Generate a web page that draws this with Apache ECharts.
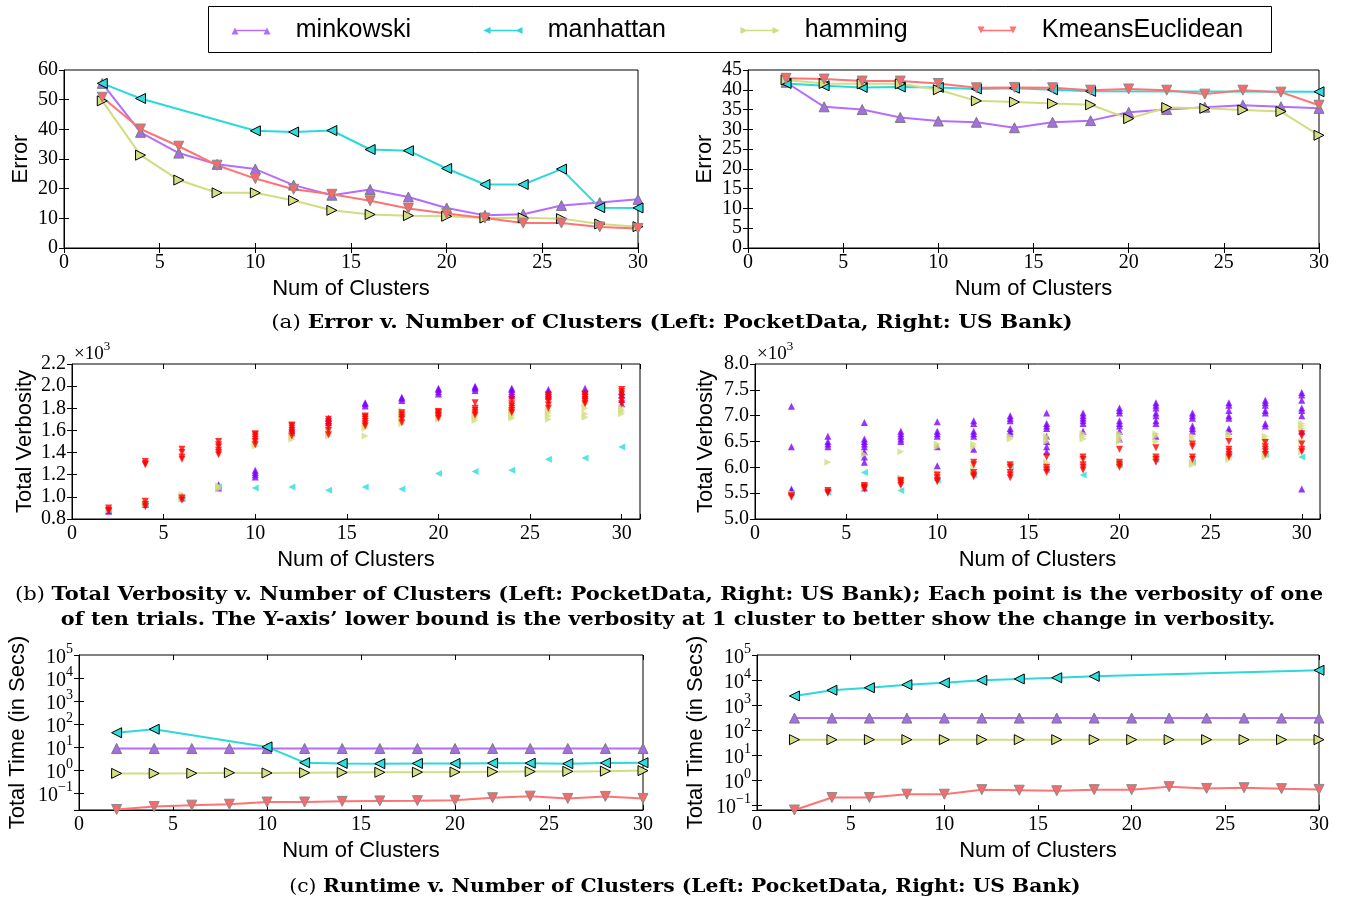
<!DOCTYPE html>
<html><head><meta charset="utf-8">
<script src="https://cdn.jsdelivr.net/npm/echarts@6/dist/echarts.min.js"></script>
<style>html,body{margin:0;padding:0;background:#fff}#c{width:1345px;height:901px}</style>
</head><body><div id="c"></div>
<script>
// ---------------- DATA ----------------
const clusters = [2,4,6,8,10,12,14,16,18,20,22,24,26,28,30];
const seriesNames = ['minkowski','manhattan','hamming','KmeansEuclidean'];

// (a) Error, PocketData
const errPocketMink   = [55.5,39.0,32.0,28.2,26.6,21.2,17.8,19.7,17.2,13.5,11.0,11.4,14.3,15.3,16.4];
const errPocketManh   = [55.5,50.4,null,null,39.5,39.1,39.6,33.2,32.8,26.8,21.4,21.4,26.6,13.6,13.5];
const errPocketHamm   = [49.6,31.3,22.9,18.6,18.6,16.0,12.7,11.3,10.9,10.7,10.1,10.2,9.9,8.1,7.2];
const errPocketKmeans = [50.8,40.1,34.3,27.9,23.4,19.8,18.1,15.9,13.3,11.6,10.1,8.4,8.4,7.1,6.6];
// (a) Error, US Bank
const errBankMink   = [41.9,35.7,35.0,33.0,32.1,31.8,30.4,31.8,32.2,34.3,35.0,35.6,36.1,35.7,35.3];
const errBankManh   = [41.6,41.0,40.6,40.7,40.6,40.2,40.4,40.0,39.6,null,null,null,null,null,39.5];
const errBankHamm   = [42.5,41.6,41.5,41.5,40.0,37.2,36.9,36.5,36.2,32.7,35.5,35.3,34.9,34.5,28.5];
const errBankKmeans = [42.9,42.7,42.2,42.2,41.6,40.5,40.6,40.5,39.9,40.2,39.9,38.9,39.9,39.4,36.1];

// (b) Total verbosity (x10^3), trials per cluster count, PocketData
const verbPocketMink = [[0.87,0.88],[0.93,0.94],[0.99,1.01],[1.08,1.10,1.11],[1.18,1.20,1.22,1.24],[1.58,1.60,1.62],[1.67,1.69,1.71],[1.82,1.84,1.85],[1.87,1.89,1.90],[1.93,1.95,1.97,1.98],[1.96,1.98,1.99,2.00],[1.91,1.93,1.95,1.97,1.98],[1.91,1.93,1.95,1.97],[1.92,1.95,1.98],[1.84,1.88,1.92,1.95]];
const verbPocketManh = [[0.88],[0.93],[0.99],[1.09],[1.08],[1.09],[1.06],[1.09],[1.07],[1.21],[1.23],[1.24],[1.34],[1.35],[1.45]];
const verbPocketHamm = [[0.88],[0.93,0.95],[0.98,1.00,1.02],[1.07,1.09,1.10],[1.46,1.48,1.50],[1.52,1.54,1.56],[1.55,1.57,1.60],[1.55,1.62,1.64,1.66],[1.66,1.70,1.74,1.78],[1.70,1.73,1.76,1.78],[1.69,1.71,1.73,1.75],[1.71,1.73,1.76,1.78],[1.70,1.73,1.76,1.78],[1.72,1.75,1.80,1.84],[1.75,1.77,1.79,1.81]];
const verbPocketKmeans = [[0.87,0.88,0.90],[0.91,0.93,0.96,1.29,1.30,1.32],[0.97,0.99,1.34,1.36,1.40,1.43],[1.38,1.40,1.42,1.45,1.47,1.50],[1.47,1.50,1.52,1.54,1.56,1.57],[1.55,1.58,1.60,1.62,1.64,1.65],[1.56,1.60,1.63,1.66,1.68,1.70],[1.64,1.66,1.68,1.70,1.72,1.73],[1.67,1.70,1.72,1.74,1.76],[1.71,1.73,1.74,1.76,1.77],[1.74,1.76,1.78,1.80,1.85],[1.76,1.78,1.80,1.82,1.84,1.88],[1.80,1.83,1.86,1.88,1.90,1.92],[1.84,1.86,1.88,1.90,1.92,1.93],[1.84,1.87,1.90,1.93,1.95,1.97]];
// (b) Total verbosity (x10^3), US Bank
const verbBankMink = [[7.18,6.40,5.58,5.55],[6.60,6.50,6.45,6.40],[6.87,6.55,6.50,6.45,6.40,6.30,6.20,6.10,5.60],[6.70,6.65,6.60,6.55,6.50],[6.88,6.70,6.65,6.60,6.40,6.03],[6.90,6.85,6.70,6.65,6.60,6.35],[7.00,6.95,6.90,6.75,6.70,6.65],[7.05,6.85,6.80,6.75,6.60,6.50,6.40,6.30],[7.05,7.00,6.95,6.90,6.85,6.70],[7.15,7.10,7.05,6.90,6.85,6.80,6.70,6.55],[7.25,7.20,7.15,7.05,7.00,6.90,6.85,6.60],[7.05,7.00,6.95,6.80,6.75,6.70],[7.25,7.20,7.10,7.00,6.95,6.75,6.70],[7.30,7.25,7.20,7.10,7.05,6.85,6.80],[7.45,7.40,7.30,7.15,7.10,7.00,6.70,5.58]];
const verbBankManh = [[5.50],[5.52],[5.90],[5.55],[5.75],[5.85],[6.02],[5.95],[5.85],[6.05],[6.15],[6.10],[6.25],[6.25],[6.20]];
const verbBankHamm = [[5.50],[6.10],[6.25,5.60],[6.30,5.80],[6.45,6.40,5.90],[6.45,6.40,6.00,5.90],[6.55,6.60,6.05],[6.55,6.50,6.60,6.00,6.10],[6.55,6.60,6.65,6.20],[6.60,6.65,6.55,6.50,6.10,6.05],[6.65,6.60,6.50,6.20],[6.60,6.55,6.10,6.05],[6.65,6.60,6.20,6.15],[6.60,6.55,6.50,6.25,6.20],[6.85,6.80,6.75,6.50,6.30]];
const verbBankKmeans = [[5.45,5.42],[5.55,5.52,5.50],[5.65,5.62,5.60,5.58],[5.75,5.72,5.68,5.65],[5.85,5.80,5.75,5.72],[6.10,6.05,5.90,5.85,5.82],[6.05,6.00,5.90,5.85,5.80],[6.20,6.00,5.95,5.90],[6.20,6.15,6.05,6.00,5.95],[6.35,6.10,6.05,6.00],[6.38,6.20,6.15,6.10],[6.45,6.40,6.20,6.15],[6.50,6.35,6.30,6.25,6.20],[6.48,6.40,6.35,6.30,6.25],[6.65,6.60,6.45,6.35,6.30]];

// (c) Runtime (s), PocketData
const timePocketMink   = [8.7,8.7,8.7,8.7,8.7,8.7,8.7,8.7,8.7,8.7,8.7,8.7,8.7,8.7,8.7];
const timePocketManh   = [42,60,null,null,10.2,2.1,1.95,1.9,1.95,1.95,2.0,2.0,1.9,2.05,2.1];
const timePocketHamm   = [0.72,0.72,0.73,0.77,0.75,0.77,0.79,0.80,0.81,0.82,0.85,0.87,0.88,0.90,0.95];
const timePocketKmeans = [0.0195,0.026,0.030,0.033,0.041,0.041,0.044,0.046,0.047,0.049,0.063,0.074,0.059,0.072,0.059];
// (c) Runtime (s), US Bank
const timeBankMink   = [300,300,300,300,300,300,300,300,300,300,300,300,300,300,300];
const timeBankManh   = [2300,3900,4900,6500,7700,9700,11000,12300,14000,null,null,null,null,null,24500];
const timeBankHamm   = [41,41,41,41,41,41,41,41,41,41,41,41,41,41,41];
const timeBankKmeans = [0.063,0.20,0.20,0.27,0.27,0.41,0.39,0.37,0.41,0.41,0.54,0.46,0.49,0.45,0.42];

const verbTicks = ['0.8','1.0','1.2','1.4','1.6','1.8','2.0','2.2'];

// ---------------- STYLE ----------------
const SERIF = 'Liberation Serif', SANS = 'Liberation Sans', CAP = 'DejaVu Serif';
const lineColors   = ['#b56cff','#2bd9d9','#d2dc80','#ff7373'];
const markerFill   = ['#a46ee6','#2bdddd','#d4dd80','#f56a6a'];
const markerBorder = ['#7a7a7a','#000000','#000000','#8a8a8a'];
const scatterColors= ['#8000ff','#2bdddd','#d4dd80','#ff0000'];
const rotations    = [0, 90, -90, 180];

const pairs = vals => clusters.map((x,i)=>[x, vals[i]]).filter(p => p[1] != null);
const trials = lists => clusters.flatMap((x,i)=> lists[i].map(v => [x, v]));

const grids = [
  {left:64,  top:70,  width:574, height:178},
  {left:748, top:70,  width:571, height:178},
  {left:72,  top:364, width:568, height:155},
  {left:755, top:364, width:565, height:155},
  {left:79,  top:655, width:564, height:155},
  {left:757, top:655, width:562, height:155}
].map(g => Object.assign({show:true, borderColor:'#000', borderWidth:1, backgroundColor:'transparent'}, g));

const tickStyle = {show:true, inside:true, length:5, lineStyle:{color:'#000', width:1}};
const labelBase = {color:'#000', fontFamily:SERIF, fontSize:20};
const nameStyle = {fontFamily:SANS, fontSize:22, color:'#000'};

const xAxes = [], yAxes = [];
function addX(gi, max){
  xAxes.push({gridIndex:gi, type:'value', min:0, max:max, interval:5, position:'bottom',
    axisLine:{show:true, onZero:false, lineStyle:{color:'#000'}}, axisTick:tickStyle,
    axisLabel:Object.assign({}, labelBase, {margin:5, showMinLabel:true, formatter:v => (v%5===0 ? String(v) : '')}),
    splitLine:{show:false}, name:'Num of Clusters', nameLocation:'middle', nameGap:30, nameTextStyle:nameStyle});
  xAxes.push({gridIndex:gi, type:'value', min:0, max:max, interval:5, position:'top',
    axisLine:{show:false}, axisTick:tickStyle, axisLabel:{show:false}, splitLine:{show:false}});
}
// three y axes per grid: (A) line, ticks and inner labels; (B) only the end labels; (C) right-hand ticks
function addY(gi, cfg, fmt, rich, name, gap){
  const base = Object.assign({gridIndex:gi, splitLine:{show:false}}, cfg);
  const isEnd = v => Math.abs(v - cfg.min) < 1e-9 || Math.abs(v - cfg.max) < 1e-9;
  yAxes.push(Object.assign({}, base, {position:'left', axisLine:{show:true, onZero:false, lineStyle:{color:'#000'}},
    axisTick:tickStyle,
    axisLabel:Object.assign({margin:6, showMinLabel:false, showMaxLabel:false, formatter:v => isEnd(v) ? '' : fmt(v)}, labelBase, rich ? {rich:rich} : {}),
    name:name, nameLocation:'middle', nameGap:gap, nameRotate:90, nameTextStyle:nameStyle}));
  yAxes.push(Object.assign({}, base, {position:'left', axisLine:{show:false}, axisTick:{show:false},
    axisLabel:Object.assign({margin:6, showMinLabel:true, showMaxLabel:true, formatter:v => isEnd(v) ? fmt(v) : ''}, labelBase, rich ? {rich:rich} : {})}));
  yAxes.push(Object.assign({}, base, {position:'right', axisLine:{show:false}, axisTick:tickStyle, axisLabel:{show:false}}));
}
const supFmt = v => {
  const e = Math.log10(v), r = Math.round(e);
  if (Math.abs(e - r) > 1e-6) return '';
  return '{b|10}{e|' + (r < 0 ? '\u2212' + (-r) : r) + '}';
};
const supRich = {b:{fontFamily:SERIF, fontSize:20, color:'#000', verticalAlign:'bottom', lineHeight:26},
                 e:{fontFamily:SERIF, fontSize:14, color:'#000', verticalAlign:'top', lineHeight:26}};
const logCfg = min => ({type:'log', logBase:10, min:min, max:100000, splitNumber:7});

addX(0,30); addY(0,{type:'value', min:0, max:60, interval:10}, v => String(v), null, 'Error', 32);
addX(1,30); addY(1,{type:'value', min:0, max:45, interval:5}, v => String(v), null, 'Error', 32);
addX(2,31); addY(2,{type:'value', min:0.8, max:2.2, interval:0.2}, v => verbTicks.indexOf(v.toFixed(1))>=0 ? v.toFixed(1) : '', null, 'Total Verbosity', 36);
addX(3,31); addY(3,{type:'value', min:5.0, max:8.0, interval:0.5}, v => v.toFixed(1), null, 'Total Verbosity', 38);
addX(4,30); addY(4,logCfg(0.0185), supFmt, supRich, 'Total Time (in Secs)', 50);
addX(5,30); addY(5,logCfg(0.063), supFmt, supRich, 'Total Time (in Secs)', 50);

const series = [];
function addLines(gi, arrs){
  arrs.forEach((vals, k) => series.push({
    type:'line', name:seriesNames[k], xAxisIndex:2*gi, yAxisIndex:3*gi, data:pairs(vals),
    symbol:'triangle', symbolSize:10, symbolRotate:rotations[k], showAllSymbol:true, connectNulls:true,
    lineStyle:{color:lineColors[k], width:2}, itemStyle:{color:markerFill[k], borderColor:markerBorder[k], borderWidth:1},
    emphasis:{disabled:true}, animation:false, clip:true
  }));
}
function addScatter(gi, arrs){
  arrs.forEach((lists, k) => series.push({
    type:'scatter', name:seriesNames[k], xAxisIndex:2*gi, yAxisIndex:3*gi, data:trials(lists),
    symbol:'triangle', symbolSize:7, symbolRotate:rotations[k],
    itemStyle:{color:scatterColors[k]}, emphasis:{disabled:true}, animation:false
  }));
}
addLines(0, [errPocketMink, errPocketManh, errPocketHamm, errPocketKmeans]);
addLines(1, [errBankMink, errBankManh, errBankHamm, errBankKmeans]);
addScatter(2, [verbPocketMink, verbPocketManh, verbPocketHamm, verbPocketKmeans]);
addScatter(3, [verbBankMink, verbBankManh, verbBankHamm, verbBankKmeans]);
addLines(4, [timePocketMink, timePocketManh, timePocketHamm, timePocketKmeans]);
addLines(5, [timeBankMink, timeBankManh, timeBankHamm, timeBankKmeans]);

// legend icons: a line with two small markers at its ends
const bar = 'M4,5.2L36,5.2L36,6.8L4,6.8Z';
const pad = ' M0,0L0.01,0Z M0,12L0.01,12Z';
const legendIcons = [
  'path://M0.5,10L4,3L7.5,10Z M32.5,10L36,3L39.5,10Z ' + bar + pad,
  'path://M0.5,6L7.5,2.5L7.5,9.5Z M32.5,6L39.5,2.5L39.5,9.5Z ' + bar + pad,
  'path://M0.5,2.5L7.5,6L0.5,9.5Z M32.5,2.5L39.5,6L32.5,9.5Z ' + bar + pad,
  'path://M0.5,2L7.5,2L4,9Z M32.5,2L39.5,2L36,9Z ' + bar + pad
];
const legendLeft = [226, 478, 735, 972];
const legends = seriesNames.map((n,i) => ({
  left:legendLeft[i], top:13, itemWidth:40, itemHeight:12, selectedMode:false,
  data:[{name:n, icon:legendIcons[i], itemStyle:{color:lineColors[i], borderWidth:0}}],
  textStyle:{fontFamily:SANS, fontSize:25, color:'#000', padding:[0,0,0,20]}
}));

const capRich = {n:{fontFamily:CAP, fontSize:18, color:'#000'}, b:{fontFamily:CAP, fontSize:18, fontWeight:'bold', color:'#000'}};
const sup3 = {a:{fontFamily:SERIF, fontSize:19, color:'#000', verticalAlign:'bottom', lineHeight:24},
              s:{fontFamily:SERIF, fontSize:13, color:'#000', verticalAlign:'top', lineHeight:24}};
const capText = (x, y, sx, text) => ({type:'text', x:x, y:y, scaleX:sx,
  style:{text:text, rich:capRich, align:'center', verticalAlign:'middle'}});
const graphic = [
  {type:'rect', z:0, shape:{x:208.5, y:6.5, width:1063, height:46}, style:{fill:'#fff', stroke:'#000', lineWidth:1}},
  capText(672, 323, 1.195, '{n|(a) }{b|Error v. Number of Clusters (Left: PocketData, Right: US Bank)}'),
  capText(669, 595, 1.17, '{n|(b) }{b|Total Verbosity v. Number of Clusters (Left: PocketData, Right: US Bank); Each point is the verbosity of one}'),
  capText(668, 620, 1.156, "{b|of ten trials. The Y-axis\u2019 lower bound is the verbosity at 1 cluster to better show the change in verbosity.}"),
  capText(685, 887, 1.126, '{n|(c) }{b|Runtime v. Number of Clusters (Left: PocketData, Right: US Bank)}'),
  {type:'text', x:74, y:340, style:{text:'{a|\u00d710}{s|3}', rich:sup3}},
  {type:'text', x:757, y:340, style:{text:'{a|\u00d710}{s|3}', rich:sup3}}
];

const chart = echarts.init(document.getElementById('c'));
chart.setOption({
  backgroundColor:'#fff', animation:false,
  grid:grids, xAxis:xAxes, yAxis:yAxes, series:series, legend:legends, graphic:graphic
});
</script></body></html>
